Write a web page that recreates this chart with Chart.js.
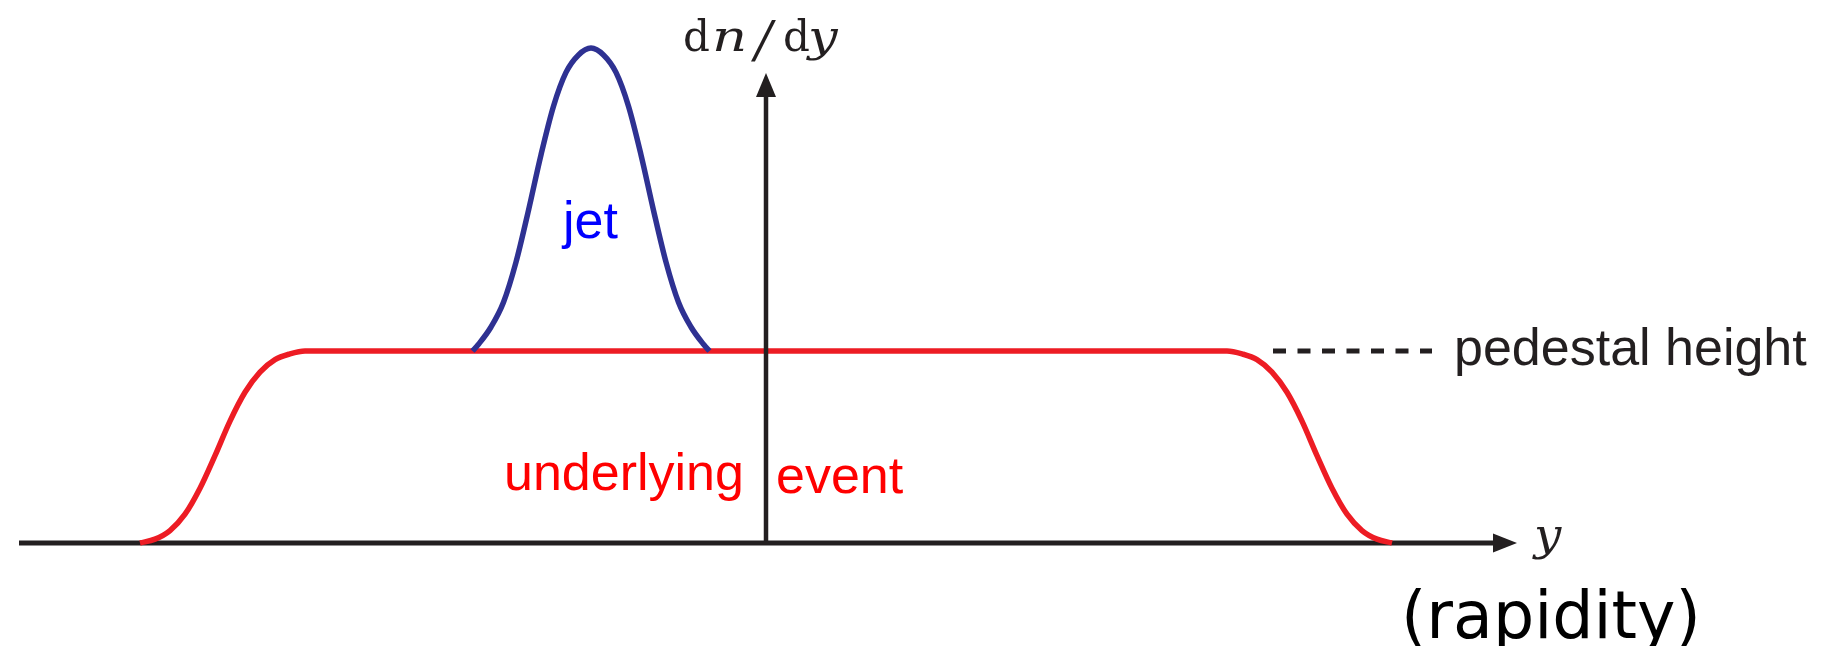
<!DOCTYPE html>
<html>
<head>
<meta charset="utf-8">
<script src="https://cdn.jsdelivr.net/npm/chart.js@4.4.1/dist/chart.umd.min.js"></script>
<style>
  html, body { margin: 0; padding: 0; background: #ffffff; }
  #wrap { width: 1834px; height: 646px; }
</style>
</head>
<body>
<div id="wrap"><canvas id="c" width="1834" height="646"></canvas></div>
<script>
// ---- data (rapidity y on horizontal axis, dn/dy on vertical axis) ----
const jetX = [-2.348, -2.3, -2.2, -2.1, -2.0, -1.9, -1.8, -1.7, -1.6, -1.5, -1.4,
              -1.3, -1.2, -1.1, -1.0, -0.9, -0.8, -0.7, -0.6, -0.5, -0.452];
const jetY = [1.0, 1.035, 1.125, 1.254, 1.463, 1.733, 2.022, 2.275, 2.451, 2.542, 2.578,
              2.542, 2.451, 2.275, 2.022, 1.733, 1.463, 1.254, 1.125, 1.035, 1.0];

const ueX = [-5.008, -4.888, -4.768, -4.648, -4.528, -4.408, -4.288, -4.168, -4.048, -3.928, -3.808, -3.688,
             3.688, 3.808, 3.928, 4.048, 4.168, 4.288, 4.408, 4.528, 4.648, 4.768, 4.888, 5.008];
const ueY = [0, 0.02, 0.065, 0.15, 0.285, 0.455, 0.635, 0.785, 0.89, 0.955, 0.985, 1.0,
             1.0, 0.985, 0.955, 0.89, 0.785, 0.635, 0.455, 0.285, 0.15, 0.065, 0.02, 0];

const pedX = [4.056, 5.328];
const pedY = [1, 1];

const axisXRange = [-5.976, 6.008];   // horizontal axis: start .. arrow tip
const axisYRange = [0, 2.448];        // vertical axis: start .. arrow tip

const toPts = (xs, ys) => xs.map((x, i) => ({ x: x, y: ys[i] }));

const INK = '#231f20';

function wideText(ctx, txt, x, y, sx) {
  ctx.save();
  ctx.translate(x, y);
  ctx.scale(sx, 1);
  ctx.fillText(txt, 0, 0);
  ctx.restore();
}

const axesPlugin = {
  id: 'axes',
  beforeDatasetsDraw(chart) {
    const ctx = chart.ctx, xs = chart.scales.x, ys = chart.scales.y;
    const y0 = ys.getPixelForValue(0);
    const xa = xs.getPixelForValue(axisXRange[0]), xb = xs.getPixelForValue(axisXRange[1]);
    ctx.save();
    ctx.strokeStyle = INK; ctx.fillStyle = INK; ctx.lineWidth = 5; ctx.lineCap = 'butt';
    ctx.beginPath(); ctx.moveTo(xa, y0); ctx.lineTo(xb - 20, y0); ctx.stroke();
    ctx.beginPath(); ctx.moveTo(xb, y0); ctx.lineTo(xb - 24, y0 - 9.5); ctx.lineTo(xb - 24, y0 + 9.5); ctx.closePath(); ctx.fill();
    ctx.restore();
  },
  afterDatasetsDraw(chart) {
    const ctx = chart.ctx, xs = chart.scales.x, ys = chart.scales.y;
    const y0 = ys.getPixelForValue(0), x0 = xs.getPixelForValue(0);
    const yb = ys.getPixelForValue(axisYRange[1]);
    ctx.save();
    ctx.strokeStyle = INK; ctx.fillStyle = INK; ctx.lineWidth = 4.5; ctx.lineCap = 'butt';
    ctx.beginPath(); ctx.moveTo(x0, y0); ctx.lineTo(x0, yb + 20); ctx.stroke();
    ctx.beginPath(); ctx.moveTo(x0, yb); ctx.lineTo(x0 - 10, yb + 24); ctx.lineTo(x0 + 10, yb + 24); ctx.closePath(); ctx.fill();
    ctx.restore();
  },
  afterDraw(chart) {
    const ctx = chart.ctx;
    ctx.save();
    ctx.textBaseline = 'alphabetic';
    ctx.textAlign = 'left';
    ctx.fillStyle = '#0000ff';
    ctx.font = '52px "Liberation Sans", Arial, sans-serif';
    ctx.fillText('jet', 563, 238);
    ctx.fillStyle = '#ff0000';
    ctx.fillText('underlying', 504, 490);
    ctx.fillText('event', 776, 493);
    ctx.fillStyle = INK;
    ctx.fillText('pedestal height', 1454, 365);
    ctx.fillStyle = '#000000';
    ctx.font = '65px "DejaVu Sans", sans-serif';
    ctx.fillText('(rapidity)', 1401, 638);
    // dn/dy
    ctx.fillStyle = INK;
    ctx.font = '42px "DejaVu Serif", serif';
    ctx.fillText('d', 683, 51);
    ctx.fillText('d', 783, 51);
    ctx.font = 'italic 42px "DejaVu Serif", serif';
    wideText(ctx, 'n', 712, 51, 1.3);
    wideText(ctx, 'y', 808, 51, 1.25);
    ctx.font = 'italic 50px "DejaVu Serif", serif';
    ctx.fillText('/', 755, 57);
    // y at horizontal axis
    ctx.font = 'italic 44px "DejaVu Serif", serif';
    wideText(ctx, 'y', 1534, 550, 1.1);
    ctx.restore();
  }
};

const PX_PER_X = 125, PX_PER_Y = 192, X0PX = 766, Y0PX = 543, W = 1834, H = 646;

new Chart(document.getElementById('c'), {
  type: 'line',
  data: {
    datasets: [
      { label: 'jet', data: toPts(jetX, jetY), borderColor: '#2e3192', borderWidth: 5.5,
        pointRadius: 0, cubicInterpolationMode: 'monotone', fill: false, borderCapStyle: 'butt' },
      { label: 'underlying event', data: toPts(ueX, ueY), borderColor: '#ed1c24', borderWidth: 5.5,
        pointRadius: 0, cubicInterpolationMode: 'monotone', fill: false, borderCapStyle: 'butt' },
      { label: 'pedestal height', data: toPts(pedX, pedY), borderColor: INK, borderWidth: 5,
        borderDash: [13, 11.5], pointRadius: 0, tension: 0, fill: false, borderCapStyle: 'butt' }
    ]
  },
  options: {
    responsive: false,
    devicePixelRatio: 1,
    animation: false,
    layout: { padding: 0 },
    events: [],
    plugins: { legend: { display: false }, tooltip: { enabled: false } },
    scales: {
      x: { type: 'linear', display: false, min: -X0PX / PX_PER_X, max: (W - X0PX) / PX_PER_X },
      y: { type: 'linear', display: false, min: -(H - Y0PX) / PX_PER_Y, max: Y0PX / PX_PER_Y }
    }
  },
  plugins: [axesPlugin]
});
</script>
</body>
</html>
